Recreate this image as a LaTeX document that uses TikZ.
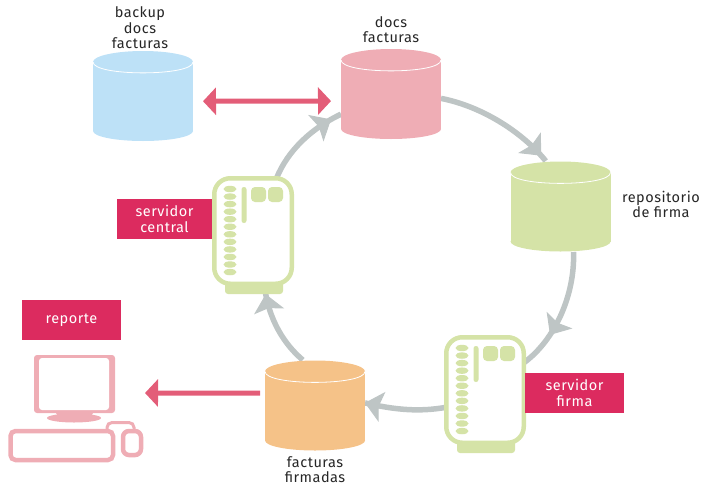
\documentclass[tikz,border=0pt]{standalone}
\usepackage{fontspec}
\setmainfont[LetterSpace=3.5]{Fira Sans}
\usepackage{xcolor}
\usetikzlibrary{arrows.meta, backgrounds, decorations.markings}

\definecolor{azulbd}{HTML}{BDE1F7}
\definecolor{rosabd}{HTML}{EFADB5}
\definecolor{verdebd}{HTML}{D5E3A7}
\definecolor{narabd}{HTML}{F5C288}
\definecolor{grisarco}{HTML}{BEC5C5}
\definecolor{rojoetq}{HTML}{DC2B5F}
\definecolor{rojoflecha}{HTML}{E35D78}

\tikzset{
    basedatos/.pic={
        \node[minimum width=100pt, minimum height=91pt, inner sep=0pt, outer sep=0pt] (-caja) at (0,0) {};
        \fill[#1] (-50,-34) rectangle (50,35);
        \fill[#1] (0,-34) ellipse (50 and 11);
        \fill[#1] (0,35) ellipse (50 and 10);
        \draw[white, line width=0.8pt] (-50,-34) .. controls (-50,-19.5) and (50,-19.5) .. (50,-34);
    },
    etiqueta/.style={fill=rojoetq, text=white, align=center, font=\fontsize{14.5}{15.5}\selectfont,
        minimum width=98pt, minimum height=40pt, inner sep=0pt},
    texto/.style={text=black!85, align=center, font=\fontsize{14.5}{15.5}\selectfont, inner sep=0pt},
    arco/.style={draw=grisarco, line width=5.5pt, decoration={markings,
        mark=at position #1 with {\fill[grisarco, draw=grisarco, line width=1pt, line join=miter] (1,0) -- (-15,14) -- (-12,0) -- (-15,-14) -- cycle;}},
        postaction={decorate}},
    enlace/.style={draw=rojoflecha, line width=5pt},
    servidor/.pic={
        \fill[verdebd, rounded corners=3pt] (13,95) rectangle (71,118);
        \node[draw=verdebd, fill=white, line width=4.5pt, rounded corners=16pt, inner sep=0pt, outer sep=0pt,
            minimum width=77.5pt, minimum height=105.5pt] (-caja) at (41,55) {};
        \foreach \i in {0,...,11}
            \fill[verdebd] (18,{13+7.55*\i}) ellipse (6.5 and 3.2);
        \fill[verdebd, rounded corners=2.4pt] (29.5,11) rectangle (34.5,47);
        \fill[verdebd, rounded corners=4pt] (39,11) rectangle (54,26);
        \fill[verdebd, rounded corners=4pt] (56,11) rectangle (71,26);
    },
}

\begin{document}
\begin{tikzpicture}[x=1pt, y=-1pt]
    \useasboundingbox (0,0) rectangle (706,485);

    % bases de datos
    \pic (backup) at (143,96) {basedatos=azulbd};
    \pic (docs) at (391,94) {basedatos=rosabd};
    \pic (repo) at (560.5,206.5) {basedatos=verdebd};
    \pic (firmadas) at (315,405.5) {basedatos=narabd};

    % servidores
    \pic (central) at (212,176) {servidor};
    \pic (firma) at (444,335) {servidor};

    % computadora
    \coordinate (pc) at (145,393);
    \fill[rosabd, rounded corners=3pt] (34,355) rectangle (115,413);
    \fill[white, rounded corners=3pt] (39,358) rectangle (109,410);
    \fill[rosabd] (56,413) -- (93,413) -- (90,418) -- (59,418) -- cycle;
    \fill[rosabd] (74,418) ellipse (27 and 4.5);
    \draw[rosabd, line width=3pt, rounded corners=5pt] (107,430) -- (107,422.5) -- (134,422.5) -- (134,430);
    \draw[rosabd, line width=4.5pt, fill=white, rounded corners=5pt] (10.5,431) rectangle (113,460);
    \draw[rosabd, line width=4.5pt, fill=white, rounded corners=6pt] (123,431) rectangle (141,455);

    % flechas del ciclo
    \begin{scope}[on background layer]
        \draw[arco=0.93] (docs-caja.-5) .. controls (485,107) and (525,135) .. (repo-caja.108);
        \draw[arco=0.68] (repo-caja.-74) .. controls (575,295) and (555,340) .. (firma-caja.35);
        \draw[arco=0.98] (firma-caja.204) .. controls (420,412) and (395,410) .. (firmadas-caja.3);
        \draw[arco=0.86] (firmadas-caja.105) .. controls (285,345) and (268,320) .. (central-caja.-78);
        \draw[arco=0.86] (central-caja.66) .. controls (288,150) and (312,128) .. (docs-caja.202);
    \end{scope}

    \draw[enlace, {Triangle[length=13pt, width=27pt]}-{Triangle[length=13pt, width=27pt]}, shorten <=10pt, shorten >=10pt] (backup-caja.-6) -- (docs-caja.188);
    \draw[enlace, -{Triangle[length=13pt, width=27pt]}, shorten <=5pt] (firmadas-caja.166) -- (pc);

    % etiquetas
    \node[etiqueta, minimum width=95pt] (etqcentral) at (164.5,219) {servidor\\central};
    \node[etiqueta, minimum width=99pt] (etqfirma) at (574.5,393) {servidor\\firma};
    \node[etiqueta, minimum width=99pt] (etqreporte) at (71.5,320) {reporte};

    \node[texto] (txtbackup) at (140,28) {backup\\docs\\facturas};
    \node[texto] (txtdocs) at (391,29.5) {docs\\facturas};
    \node[texto] (txtrepo) at (661,204.5) {repositorio\\de firma};
    \node[texto] (txtfirmadas) at (315,469.5) {facturas\\firmadas};
\end{tikzpicture}
\end{document}
